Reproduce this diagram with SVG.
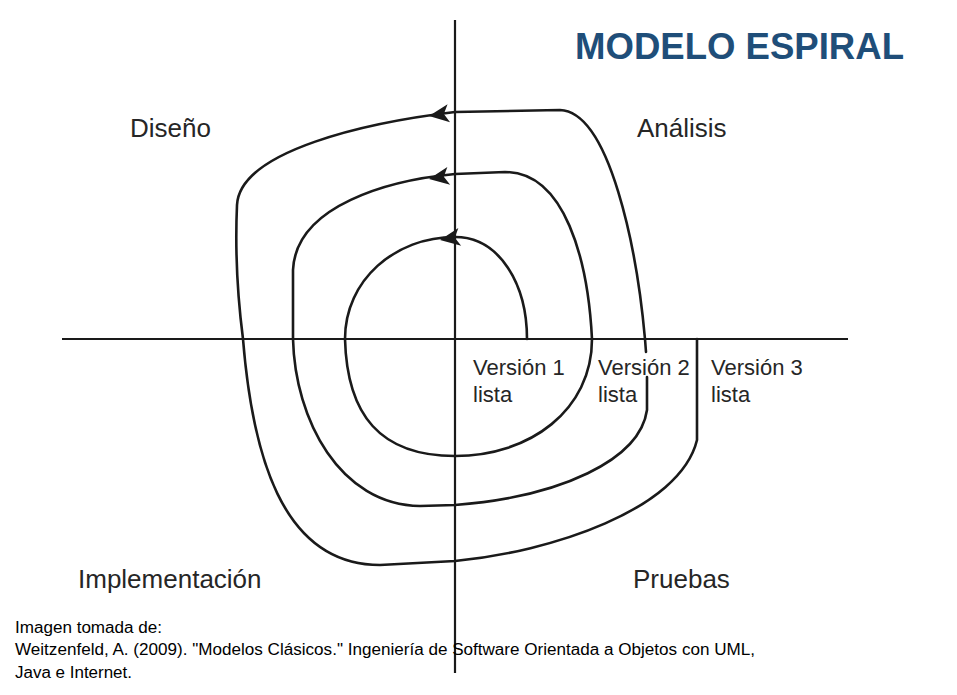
<svg xmlns="http://www.w3.org/2000/svg" xmlns:xlink="http://www.w3.org/1999/xlink" width="957" height="695" viewBox="0 0 957 695">
<defs>
<style>
.ax{fill:none;stroke:#1a1a1a;stroke-width:2.2}
.sp{fill:none;stroke:#1a1a1a;stroke-width:2.6;stroke-linecap:round;stroke-linejoin:round}
.lbl{font-family:"Liberation Sans",Arial,Helvetica,sans-serif;font-size:26px;fill:#262626}
.ver{font-family:"Liberation Sans",Arial,Helvetica,sans-serif;font-size:22px;fill:#262626}
.ttl{font-family:"Liberation Sans",Arial,Helvetica,sans-serif;font-size:37px;font-weight:bold;fill:#1f4e79}
.cit{font-family:"Liberation Sans","Open Sans",Arial,sans-serif;font-size:16px;fill:#000}
</style>
<path id="ah" d="M0,0 L20,-9 L15,0 L20,9 Z" fill="#1a1a1a"/>
</defs>
<rect width="957" height="695" fill="#fff"/>
<g id="axes">
<line class="ax" x1="62" y1="339" x2="848" y2="339"/>
<line class="ax" x1="455" y1="20" x2="455" y2="673"/>
</g>
<g id="connectors">
<path class="sp" d="M527,339 C527,285 500,237 455,237 C395,237 345,280 345,339 C347,415 380,456 455,456 C530,456 592,410 592,339 C588,260 565,172 505,172 L455,174 C390,180 296,205 293,270 L293,339 C295,420 340,505 420,506 L455,505 C560,497 640,460 647,410 L647,377 M646,352 L645,339 C637,250 610,112 560,110 L455,112 C370,122 240,150 237,205 C235,250 238,300 243,339 C252,450 280,565 380,565 L455,561 C550,552 680,510 697,440 L697,339"/>
<use xlink:href="#ah" transform="translate(429,116) rotate(-8)"/>
<use xlink:href="#ah" transform="translate(429,179) rotate(-9)"/>
<use xlink:href="#ah" transform="translate(440,240) rotate(-9)"/>
</g>
<g id="node-diseno"><text class="lbl" x="130" y="137">Diseño</text></g>
<g id="node-analisis"><text class="lbl" x="637" y="137">Análisis</text></g>
<g id="node-implementacion"><text class="lbl" x="78" y="588">Implementación</text></g>
<g id="node-pruebas"><text class="lbl" x="633" y="588">Pruebas</text></g>
<g id="node-v1"><text class="ver" x="473" y="375">Versión 1</text><text class="ver" x="473" y="402">lista</text></g>
<g id="node-v2"><text class="ver" x="598" y="375">Versión 2</text><text class="ver" x="598" y="402">lista</text></g>
<g id="node-v3"><text class="ver" x="711" y="375">Versión 3</text><text class="ver" x="711" y="402">lista</text></g>
<g id="title"><text class="ttl" x="575" y="59" textLength="329" lengthAdjust="spacingAndGlyphs">MODELO ESPIRAL</text></g>
<g id="citation">
<text class="cit" x="15" y="633" textLength="147" lengthAdjust="spacingAndGlyphs">Imagen tomada de:</text>
<text class="cit" x="15" y="655" textLength="740" lengthAdjust="spacingAndGlyphs">Weitzenfeld, A. (2009). "Modelos Clásicos." Ingeniería de Software Orientada a Objetos con UML,</text>
<text class="cit" x="15" y="678" textLength="117" lengthAdjust="spacingAndGlyphs">Java e Internet.</text>
</g>
</svg>
